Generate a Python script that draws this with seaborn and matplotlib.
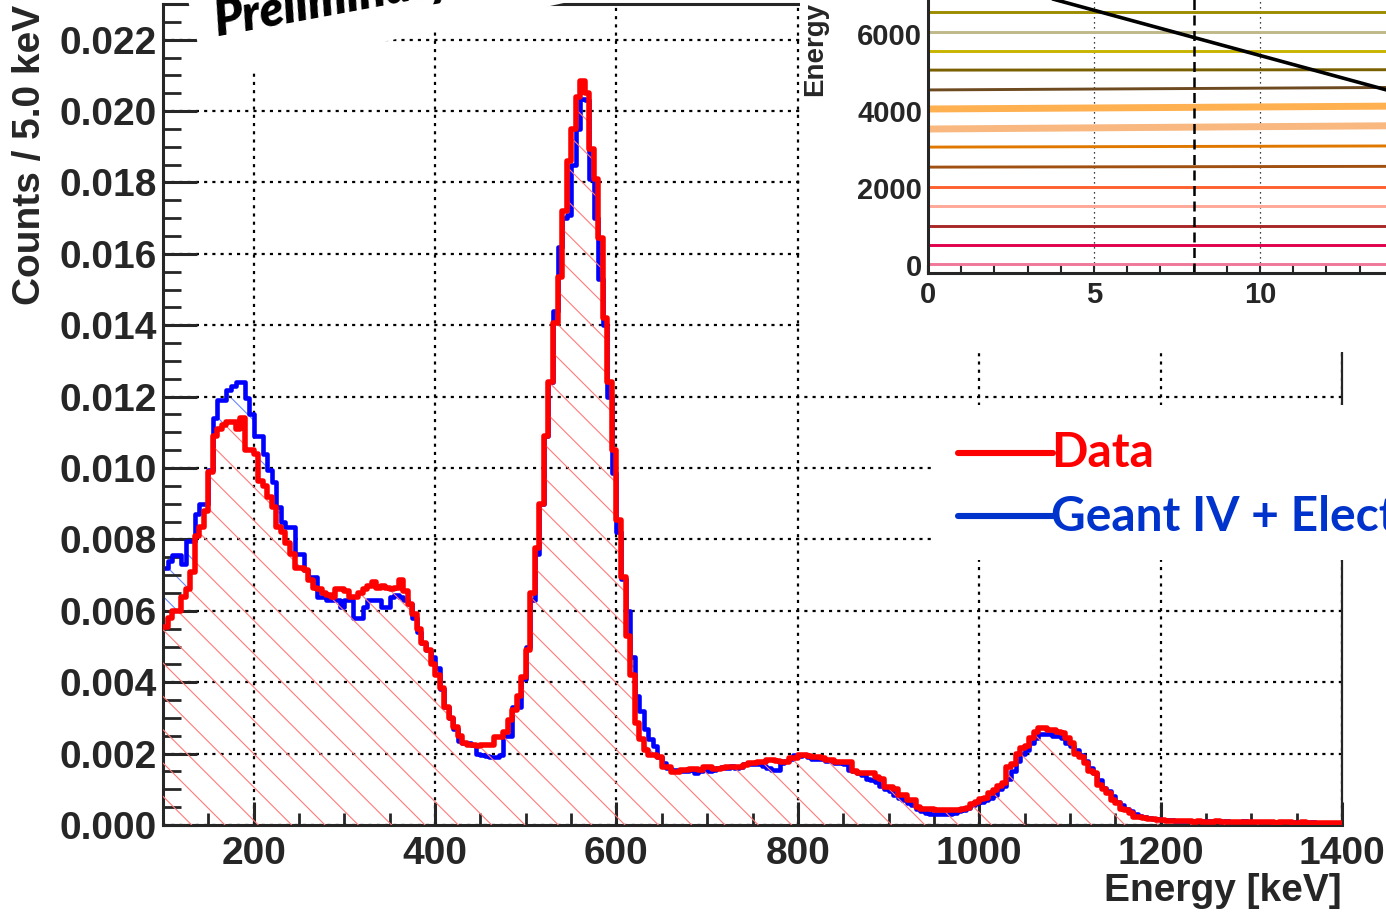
import numpy as np
import pandas as pd
import matplotlib
matplotlib.use("Agg")
import matplotlib.pyplot as plt
import seaborn as sns
from matplotlib.patches import Rectangle, Polygon
from matplotlib.lines import Line2D
from matplotlib.ticker import MultipleLocator, FuncFormatter
from matplotlib.transforms import IdentityTransform

# ---------------- data (main histogram, 5 keV bins, values in units of 1e-3) ----------------
bin_low_kev = np.arange(100, 1400, 5)

data_e3 = [
    5.55, 5.8, 6.0, 6.0, 6.4, 6.6, 7.1, 8.1, 8.35, 8.8,
    9.9, 10.9, 11.1, 11.2, 11.3, 11.3, 11.1, 11.4, 10.5, 10.5,
    10.4, 9.65, 9.5, 9.2, 8.9, 8.35, 8.2, 7.9, 7.6, 7.2,
    7.2, 7.15, 6.85, 6.65, 6.6, 6.5, 6.45, 6.4, 6.6, 6.6,
    6.55, 6.4, 6.4, 6.5, 6.6, 6.7, 6.8, 6.65, 6.7, 6.65,
    6.6, 6.65, 6.85, 6.55, 6.2, 5.9, 5.5, 5.1, 4.9, 4.5,
    4.2, 3.85, 3.3, 3.0, 2.75, 2.5, 2.29, 2.24, 2.24, 2.2,
    2.24, 2.24, 2.24, 2.47, 2.47, 2.6, 2.94, 3.22, 3.6, 4.15,
    4.9, 6.5, 7.75, 9.0, 10.9, 12.4, 14.05, 15.35, 17.2, 18.6,
    19.5, 20.4, 20.85, 20.5, 18.95, 18.1, 16.45, 14.2, 12.4, 10.5,
    8.55, 6.95, 5.3, 4.2, 2.85, 2.4, 2.1, 1.96, 1.96, 1.9,
    1.63, 1.63, 1.49, 1.49, 1.54, 1.54, 1.58, 1.58, 1.54, 1.63,
    1.63, 1.58, 1.58, 1.6, 1.63, 1.63, 1.63, 1.63, 1.68, 1.73,
    1.73, 1.77, 1.77, 1.82, 1.82, 1.8, 1.77, 1.77, 1.87, 1.87,
    1.96, 1.96, 1.93, 1.91, 1.91, 1.88, 1.82, 1.82, 1.77, 1.77,
    1.77, 1.77, 1.5, 1.45, 1.45, 1.45, 1.45, 1.35, 1.3, 1.07,
    1.07, 1.0, 0.84, 0.84, 0.70, 0.70, 0.5, 0.44, 0.44, 0.44,
    0.42, 0.42, 0.42, 0.42, 0.42, 0.42, 0.46, 0.49, 0.6, 0.65,
    0.72, 0.75, 0.9, 0.98, 1.1, 1.17, 1.63, 1.7, 2.0, 2.15,
    2.2, 2.43, 2.6, 2.71, 2.71, 2.66, 2.66, 2.6, 2.57, 2.45,
    2.29, 2.0, 1.9, 1.73, 1.5, 1.45, 1.12, 1.0, 0.89, 0.7,
    0.61, 0.45, 0.42, 0.35, 0.23, 0.23, 0.2, 0.16, 0.16, 0.15,
    0.13, 0.12, 0.11, 0.11, 0.1, 0.1, 0.1, 0.09, 0.1, 0.09,
    0.09, 0.09, 0.1, 0.09, 0.08, 0.09, 0.09, 0.08, 0.09, 0.08,
    0.08, 0.08, 0.09, 0.08, 0.08, 0.07, 0.08, 0.08, 0.08, 0.07,
    0.07, 0.08, 0.07, 0.07, 0.07, 0.07, 0.06, 0.07, 0.07, 0.06,
]

sim_e3 = [
    7.2, 7.4, 7.55, 7.55, 7.3, 7.95, 7.95, 8.7, 9.0, 9.0,
    9.95, 11.4, 11.9, 11.9, 12.2, 12.3, 12.4, 12.4, 11.95, 11.5,
    10.9, 10.9, 10.4, 9.95, 9.6, 8.9, 8.5, 8.35, 8.35, 7.6,
    7.6, 7.15, 6.95, 6.95, 6.4, 6.4, 6.3, 6.3, 6.3, 6.1,
    6.3, 6.3, 5.8, 5.8, 6.1, 6.3, 6.3, 6.3, 6.1, 6.1,
    6.4, 6.45, 6.4, 6.3, 6.2, 5.8, 5.4, 5.1, 4.9, 4.7,
    4.4, 3.8, 3.3, 3.0, 2.7, 2.35, 2.3, 2.3, 2.25, 2.0,
    1.95, 1.92, 1.9, 1.9, 1.95, 2.5, 2.5, 3.3, 3.3, 4.1,
    5.0, 6.3, 7.6, 9.0, 10.9, 12.4, 14.4, 16.2, 17.0, 17.1,
    18.5, 19.5, 20.35, 20.3, 18.1, 17.0, 15.3, 14.0, 12.0, 9.85,
    8.2, 6.9, 6.0, 4.7, 3.6, 3.2, 2.7, 2.4, 2.2, 1.9,
    1.75, 1.6, 1.55, 1.55, 1.5, 1.5, 1.55, 1.45, 1.5, 1.55,
    1.5, 1.55, 1.6, 1.62, 1.6, 1.65, 1.6, 1.63, 1.7, 1.72,
    1.7, 1.72, 1.65, 1.6, 1.55, 1.55, 1.75, 1.8, 1.85, 1.95,
    1.92, 1.95, 1.9, 1.85, 1.85, 1.85, 1.8, 1.8, 1.75, 1.75,
    1.7, 1.55, 1.5, 1.45, 1.4, 1.3, 1.25, 1.2, 1.1, 1.0,
    0.95, 0.85, 0.75, 0.7, 0.62, 0.55, 0.45, 0.4, 0.35, 0.32,
    0.3, 0.3, 0.3, 0.32, 0.35, 0.38, 0.42, 0.48, 0.55, 0.62,
    0.65, 0.7, 0.75, 0.85, 1.0, 1.1, 1.3, 1.5, 1.8, 2.0,
    2.1, 2.3, 2.45, 2.55, 2.55, 2.55, 2.5, 2.5, 2.45, 2.3,
    2.2, 2.1, 1.95, 1.8, 1.6, 1.45, 1.25, 1.05, 0.95, 0.8,
    0.65, 0.55, 0.45, 0.4, 0.3, 0.25, 0.22, 0.2, 0.18, 0.16,
    0.14, 0.13, 0.13, 0.12, 0.12, 0.11, 0.11, 0.1, 0.11, 0.1,
    0.1, 0.1, 0.1, 0.09, 0.1, 0.09, 0.09, 0.09, 0.1, 0.09,
    0.09, 0.09, 0.08, 0.09, 0.08, 0.09, 0.08, 0.08, 0.09, 0.08,
    0.08, 0.08, 0.07, 0.08, 0.07, 0.07, 0.07, 0.07, 0.06, 0.07,
]

y_tick_values = [0.000, 0.002, 0.004, 0.006, 0.008, 0.010, 0.012,
                 0.014, 0.016, 0.018, 0.020, 0.022]
x_tick_values = [200, 400, 600, 800, 1000, 1200, 1400]

# ---------------- inset data ----------------
inset_x = [0, 14]
inset_level_start = [20, 520, 1020, 1525, 2035, 2540, 3060, 3530, 4050, 4545, 5060, 5565, 6060, 6560]
inset_level_end = [20, 520, 1020, 1525, 2035, 2560, 3090, 3615, 4125, 4610, 5070, 5565, 6060, 6560]
inset_colors = ["#f07898", "#e0004c", "#a82828", "#ffa898", "#ff6030", "#a05010", "#e07800",
                "#f8b880", "#ffb050", "#6e4a20", "#7a6000", "#c8b400", "#c0b888", "#9c8c00"]
inset_thick = [False] * 7 + [True, True] + [False] * 5
inset_black_line_y = [7790, 4500]
inset_cut_x = 8
inset_x_ticks = [0, 5, 10]
inset_y_ticks = [0, 2000, 4000, 6000]

# ---------------- styling ----------------
sns.set_style("ticks")
plt.rcParams["font.family"] = ["Liberation Sans", "DejaVu Sans"]
plt.rcParams["font.weight"] = "bold"
plt.rcParams["axes.labelweight"] = "bold"
plt.rcParams["hatch.linewidth"] = 0.8

W, H = 1386, 913
fig = plt.figure(figsize=(W / 100, H / 100), dpi=100)


def fx(px):
    return px / W


def fy(py):
    return 1 - py / H


ax = fig.add_axes([fx(163), fy(825), fx(1342) - fx(163), fy(4) - fy(825)])

edges = np.append(bin_low_kev, bin_low_kev[-1] + 5)
centers = bin_low_kev + 2.5
sim = np.array(sim_e3) * 1e-3
data = np.array(data_e3) * 1e-3
df = pd.DataFrame({"energy": centers, "sim": sim, "data": data})

# simulation: hatched area + outline
ax.stairs(sim, edges, fill=True, facecolor="none", edgecolor="#6a86ff",
          hatch="\\", linewidth=0, zorder=1.0)
# data area is opaque white underneath its own hatch so the blue hatch does not bleed through
ax.stairs(data, edges, fill=True, facecolor="white", edgecolor="none",
          linewidth=0, zorder=1.2)
sns.histplot(data=df, x="energy", weights="sim", binwidth=5, binrange=(100, 1400),
             element="step", fill=False, color="#0000ff", linewidth=3.3, ax=ax, zorder=2)
ax.stairs(data, edges, fill=True, facecolor="none", edgecolor="#ff7a7a",
          hatch="\\", linewidth=0, zorder=3)
sns.histplot(data=df, x="energy", weights="data", binwidth=5, binrange=(100, 1400),
             element="step", fill=False, color="#ff0000", linewidth=4.0, ax=ax, zorder=4)

ax.set_xlim(100, 1400)
ax.set_ylim(0, 0.023)
ax.set_axisbelow("line")
ax.xaxis.set_major_locator(plt.FixedLocator(x_tick_values))
ax.xaxis.set_minor_locator(MultipleLocator(50))
ax.yaxis.set_major_locator(plt.FixedLocator(y_tick_values))
ax.yaxis.set_minor_locator(MultipleLocator(0.0005))
ax.yaxis.set_major_formatter(FuncFormatter(lambda v, p: f"{v:.3f}"))
ax.grid(True, which="major", color="black", linestyle=(0, (1.4, 2.3)), linewidth=1.6)

ax.tick_params(axis="x", which="major", direction="in", length=16.5, width=2.2,
               labelsize=28, pad=8)
ax.tick_params(axis="x", which="minor", direction="in", length=8.6, width=2.0)
ax.tick_params(axis="y", which="major", direction="in", length=24.5, width=2.2,
               labelsize=28, pad=4.5)
ax.tick_params(axis="y", which="minor", direction="in", length=13, width=2.0)
for s in ["left", "bottom", "top"]:
    ax.spines[s].set_linewidth(2.2)
ax.spines["right"].set_linewidth(1.6)

ax.set_xlabel("Energy [keV]", fontsize=28, fontweight="bold", ha="right", va="top")
ax.xaxis.set_label_coords(1.0, -0.058)
ax.set_ylabel("Counts / 5.0 keV", fontsize=28, fontweight="bold")
lbl = ax.yaxis.label
lbl.set_rotation_mode("default")
lbl.set_ha("center")
lbl.set_va("top")
ax.yaxis.set_label_coords((30 - 163) / 1179, (825 - 5) / 821)

# ---------------- "Preliminary" stamp with white box ----------------
pts = [(206, 80), (680, -22), (183, -22)]
poly = Polygon([(x, H - y) for x, y in pts], closed=True, transform=IdentityTransform(),
               facecolor="white", edgecolor="none", zorder=1)
fig.add_artist(poly)
fig.text(fx(217), fy(36), "Preliminary", rotation=10.5, rotation_mode="anchor",
         ha="left", va="baseline", fontsize=35, family=["Lato", "DejaVu Sans"],
         style="italic", weight="heavy", color="black", zorder=2)

# ---------------- legend ----------------
fig.add_artist(Rectangle((fx(935), fy(560)), fx(1400) - fx(935), fy(405) - fy(560),
                         transform=fig.transFigure, facecolor="white", edgecolor="none",
                         zorder=1))
fig.add_artist(Line2D([fx(958), fx(1053)], [fy(453), fy(453)], transform=fig.transFigure,
                      color="#ff0000", lw=4.4, zorder=3))
fig.add_artist(Line2D([fx(958), fx(1053)], [fy(516), fy(516)], transform=fig.transFigure,
                      color="#0033cc", lw=4.4, zorder=3))
fig.text(fx(1051), fy(467), "Data", color="#ff0000", fontsize=34.5,
         family=["Lato", "DejaVu Sans"], weight="bold", ha="left", va="baseline", zorder=3)
fig.text(fx(1051), fy(531), "Geant IV + Electronics", color="#0033cc", fontsize=34.5,
         family=["Lato", "DejaVu Sans"], weight="bold", ha="left", va="baseline", zorder=3)

# ---------------- inset ----------------
fig.add_artist(Rectangle((fx(800), fy(352)), fx(1400) - fx(800), fy(-10) - fy(352),
                         transform=fig.transFigure, facecolor="white", edgecolor="none",
                         zorder=1))
px_per_unit = 33.2
px_per_e = 0.0385
ylo, yhi = -210, 7000
axi = fig.add_axes([fx(928), fy(273), 14 * px_per_unit / W, (yhi - ylo) * px_per_e / H],
                   zorder=2)
axi.set_facecolor("white")
for i in range(len(inset_level_start)):
    axi.plot(inset_x, [inset_level_start[i], inset_level_end[i]], color=inset_colors[i],
             lw=5.0 if inset_thick[i] else 2.1, solid_capstyle="butt")
axi.plot(inset_x, inset_black_line_y, color="black", lw=2.6)
axi.axvline(inset_cut_x, color="black", lw=1.8, ls=(0, (4, 2.2)))
axi.set_xlim(0, 14)
axi.set_ylim(ylo, yhi)
axi.set_xticks(inset_x_ticks)
axi.xaxis.set_minor_locator(MultipleLocator(1))
axi.set_yticks(inset_y_ticks)
axi.xaxis.grid(True, which="major", color="black", lw=0.9, ls=(0, (1, 3)))
axi.tick_params(axis="x", which="both", direction="in", length=6, width=1.5,
                labelsize=21, pad=6)
axi.tick_params(axis="y", which="both", length=0, labelsize=21, pad=4.3)
axi.spines["top"].set_visible(False)
axi.spines["right"].set_visible(False)
axi.spines["left"].set_linewidth(2.2)
axi.spines["bottom"].set_linewidth(2.2)
fig.text(fx(815), fy(49), "Energy", rotation=90, ha="center", va="center",
         fontsize=20, weight="bold", zorder=3)

fig.savefig("out.png", dpi=100)
